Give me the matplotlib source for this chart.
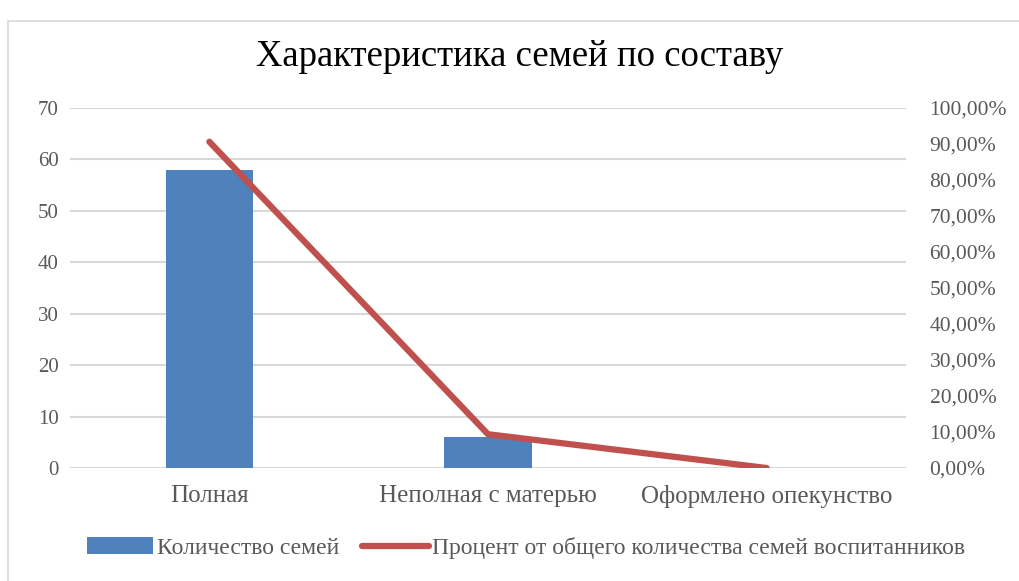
import matplotlib.pyplot as plt
from matplotlib.ticker import FuncFormatter
from matplotlib.patches import Rectangle

plt.rcParams['font.family'] = ['Liberation Serif', 'DejaVu Serif']

categories = ['Полная', 'Неполная с матерью', 'Оформлено опекунство']
families = [58, 6, 0]
percent = [90.63, 9.38, 0.0]

bar_name = 'Количество семей'
line_name = 'Процент от общего количества семей воспитанников'
title = 'Характеристика семей по составу'

fig = plt.figure(figsize=(10.19, 5.81), dpi=100)
fig.patches.append(Rectangle((8 / 1019, -0.1), 1.2, 1 - 21 / 581 + 0.1,
                             transform=fig.transFigure, fill=False,
                             edgecolor='#d9d9d9', linewidth=1.2))

ax = fig.add_axes([70 / 1019, 1 - 468 / 581, 836 / 1019, 360 / 581])
x = list(range(len(categories)))
ax.bar(x, families, width=0.314, color='#4f81bd', label=bar_name, zorder=2)
ax.set_xlim(-0.5, 2.5)
ax.set_ylim(0, 70)
ax.set_yticks(range(0, 71, 10))
ax.grid(axis='y', color='#d9d9d9', linewidth=1.5, zorder=0)
for s in ax.spines.values():
    s.set_visible(False)
ax.tick_params(length=0, colors='#595959')
ax.tick_params(axis='y', pad=8, labelsize=15)
ax.tick_params(axis='x', pad=12, labelsize=18)
ax.set_xticks(x)
ax.set_xticklabels(categories)

ax2 = ax.twinx()
ax2.plot(x, percent, color='#c0504d', linewidth=4.5, solid_capstyle='round',
         label=line_name, zorder=3)
ax2.set_ylim(0, 100)
ax2.set_yticks(range(0, 101, 10))
ax2.yaxis.set_major_formatter(FuncFormatter(lambda v, p: f'{v:.2f}%'.replace('.', ',')))
for s in ax2.spines.values():
    s.set_visible(False)
ax2.tick_params(length=0, labelsize=15.5, colors='#595959', pad=17)

fig.text(520 / 1019, 1 - 57 / 581, title, ha='center', va='center',
         fontsize=26.5, color='black')

h1, l1 = ax.get_legend_handles_labels()
h2, l2 = ax2.get_legend_handles_labels()
fig.legend(h1 + h2, l1 + l2, loc='center', bbox_to_anchor=(526 / 1019, 1 - 548 / 581),
           ncol=2, frameon=False, fontsize=17, labelcolor='#595959',
           handlelength=2.8, handletextpad=0.15, columnspacing=1.0)

fig.savefig('out.png', dpi=100)
